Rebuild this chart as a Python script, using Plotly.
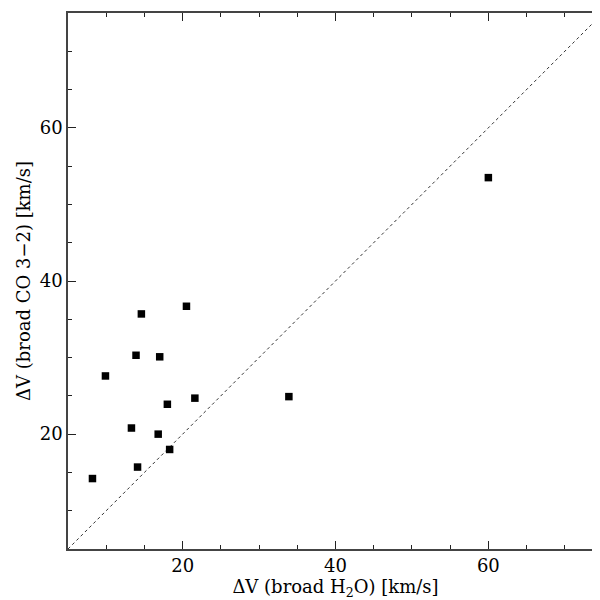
import plotly.graph_objects as go

# Data
dv_h2o = [14.6, 20.5, 13.9, 17.0, 9.9, 21.6, 18.0, 33.9, 13.3, 16.8, 18.3, 14.1, 8.2, 60.0]
dv_co32 = [35.7, 36.7, 30.3, 30.1, 27.6, 24.7, 23.9, 24.9, 20.8, 20.0, 18.0, 15.7, 14.2, 53.5]
axis_range = [5, 75]
tick_vals = [20, 40, 60]

font_family = "DejaVu Serif"

fig = go.Figure()
fig.add_trace(go.Scatter(
    x=axis_range, y=axis_range, mode="lines",
    line=dict(color="#333", width=1, dash="dot"),
    hoverinfo="skip", showlegend=False,
))
fig.add_trace(go.Scatter(
    x=dv_h2o, y=dv_co32, mode="markers",
    marker=dict(symbol="square", size=7.5, color="black", line=dict(width=0)),
    showlegend=False,
))

axis_common = dict(
    range=axis_range,
    tickvals=tick_vals,
    ticks="inside",
    ticklen=8,
    tickwidth=1.2,
    tickcolor="#222",
    showline=True,
    linecolor="#444",
    linewidth=1.6,
    mirror="ticks",
    showgrid=False,
    zeroline=False,
    tickfont=dict(family=font_family, size=18, color="black"),
    minor=dict(ticks="inside", dtick=5, tick0=0, ticklen=4, tickwidth=1.2, tickcolor="#222", showgrid=False),
)

fig.update_layout(
    width=600, height=600,
    margin=dict(l=60, r=3, t=4, b=59),
    plot_bgcolor="white",
    paper_bgcolor="white",
    font=dict(family=font_family, size=18, color="black"),
    xaxis=dict(**axis_common,
               title=dict(text="ΔV (broad H<sub>2</sub>O) [km/s]", standoff=4,
                          font=dict(family=font_family, size=18))),
    yaxis=dict(**axis_common,
               title=dict(text="ΔV (broad CO 3−2) [km/s]", standoff=4,
                          font=dict(family=font_family, size=18))),
)

fig.write_html("out.html")
